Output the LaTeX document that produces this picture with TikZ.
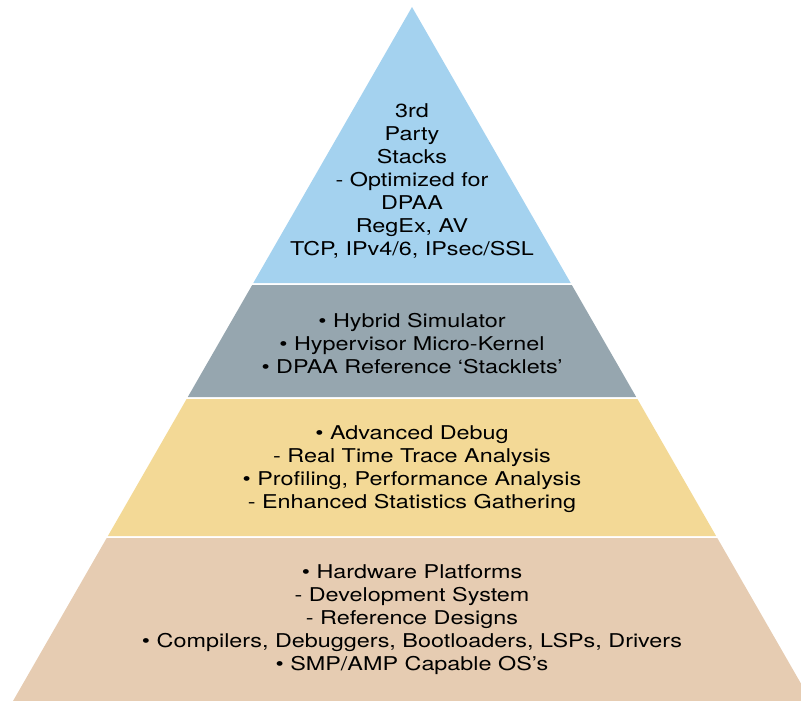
\documentclass[tikz,border=0pt]{standalone}
\usepackage{fontspec}
\setmainfont{TeX Gyre Heros}[FakeStretch=1.23]
\definecolor{tierblue}{HTML}{A4D2EF}
\definecolor{tiergray}{HTML}{96A6AF}
\definecolor{tieryellow}{HTML}{F3D996}
\definecolor{tiertan}{HTML}{E6CCB2}
\tikzset{
  tiertext/.style={align=center, inner sep=0pt, font=\fontsize{19}{23}\selectfont, text=black}
}
\begin{document}
\begin{tikzpicture}[x=1pt,y=-1pt]
\useasboundingbox (0,0) rectangle (801,701);
\clip (0,0) rectangle (801,701);
\fill[tierblue] (412,7) -- (570.7,283) -- (253.3,283) -- cycle;
\fill[tiergray] (252.2,285) -- (571.8,285) -- (636.2,397) -- (187.8,397) -- cycle;
\fill[tieryellow] (186.6,399) -- (637.4,399) -- (716.1,536) -- (107.9,536) -- cycle;
\fill[tiertan] (106.7,538) -- (717.3,538) -- (811,701) -- (13,701) -- cycle;
\node[tiertext] (top) at (412,180.5) {3rd\\Party\\Stacks\\- Optimized for\\DPAA\\RegEx, AV\\TCP, IPv4/6, IPsec/SSL};
\node[tiertext] (second) at (412,343.5) {• Hybrid Simulator\\• Hypervisor Micro-Kernel\\• DPAA Reference ‘Stacklets’};
\node[tiertext] (third) at (412,469.5) {• Advanced Debug\\- Real Time Trace Analysis\\• Profiling, Performance Analysis\\- Enhanced Statistics Gathering};
\node[tiertext] (base) at (412,620) {• Hardware Platforms\\- Development System\\- Reference Designs\\• Compilers, Debuggers, Bootloaders, LSPs, Drivers\\• SMP/AMP Capable OS’s};
\end{tikzpicture}
\end{document}
